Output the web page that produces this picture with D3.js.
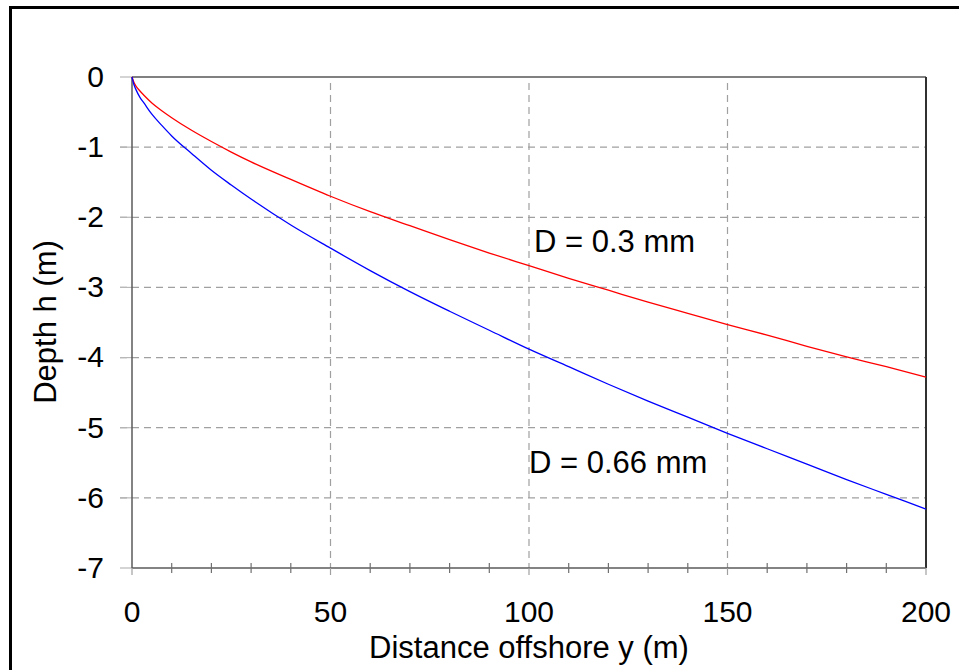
<!DOCTYPE html>
<html><head><meta charset="utf-8">
<script src="https://cdn.jsdelivr.net/npm/d3@7"></script>
<style>html,body{margin:0;padding:0;background:#fff;}svg{display:block;font-family:Arial,"Liberation Sans",sans-serif;}</style>
</head><body>
<svg id="c" width="959" height="670"></svg>
<script>
const distance = [0,0.5,1,2,3,5,7.5,10,15,20,25,30,40,50,60,70,80,90,100,110,120,130,140,150,160,170,180,190,200];
const depthFine = [0,-0.08,-0.13,-0.20,-0.26,-0.37,-0.48,-0.58,-0.76,-0.92,-1.07,-1.21,-1.46,-1.70,-1.92,-2.12,-2.32,-2.51,-2.69,-2.87,-3.04,-3.21,-3.37,-3.53,-3.68,-3.84,-3.99,-4.13,-4.28];
const depthCoarse = [0,-0.11,-0.18,-0.29,-0.37,-0.53,-0.69,-0.84,-1.09,-1.33,-1.54,-1.74,-2.11,-2.44,-2.76,-3.06,-3.34,-3.61,-3.88,-4.13,-4.38,-4.62,-4.85,-5.08,-5.30,-5.52,-5.74,-5.95,-6.16];
const seriesNames = ["D = 0.3 mm","D = 0.66 mm"];
const xTicks = [0,50,100,150,200];
const xMinor = [10,20,30,40,60,70,80,90,110,120,130,140,160,170,180,190];
const yTicks = [0,-1,-2,-3,-4,-5,-6,-7];
const xTitle = "Distance offshore y (m)";
const yTitle = "Depth h (m)";

const svg = d3.select("#c");
const x = d3.scaleLinear().domain([0,200]).range([132,926]);
const y = d3.scaleLinear().domain([0,-7]).range([77,568]);

// outer border
svg.append("rect").attr("x",10.5).attr("y",7.5).attr("width",1000).attr("height",1000)
  .attr("fill","none").attr("stroke","#000").attr("stroke-width",3);

// gridlines
const g = svg.append("g");
g.selectAll("line.hg").data(yTicks.filter(d=>d!==0 && d!==-7)).join("line")
  .attr("x1",120).attr("x2",x(200)).attr("y1",d=>y(d)).attr("y2",d=>y(d))
  .attr("stroke","#a0a0a0").attr("stroke-width",1.2).attr("stroke-dasharray","7,5");
g.selectAll("line.vg").data(xTicks.filter(d=>d!==0 && d!==200)).join("line")
  .attr("x1",d=>x(d)).attr("x2",d=>x(d)).attr("y1",y(0)+6).attr("y2",y(-7))
  .attr("stroke","#a0a0a0").attr("stroke-width",1.2).attr("stroke-dasharray","7,5");

// y tick marks (light)
g.selectAll("line.yt").data(yTicks).join("line")
  .attr("x1",120).attr("x2",132).attr("y1",d=>y(d)).attr("y2",d=>y(d))
  .attr("stroke","#b8b8b8").attr("stroke-width",1.2);

// frame
svg.append("line").attr("x1",132).attr("x2",x(200)).attr("y1",y(0)).attr("y2",y(0)).attr("stroke","#808080").attr("stroke-width",2);
svg.append("line").attr("x1",x(200)).attr("x2",x(200)).attr("y1",y(0)).attr("y2",y(-7)).attr("stroke","#303030").attr("stroke-width",2);
svg.append("line").attr("x1",132).attr("x2",132).attr("y1",y(0)).attr("y2",y(-7)).attr("stroke","#5a5a5a").attr("stroke-width",1.5);
svg.append("line").attr("x1",132).attr("x2",x(200)).attr("y1",y(-7)).attr("y2",y(-7)).attr("stroke","#5a5a5a").attr("stroke-width",1.5);

// x ticks
svg.selectAll("line.xm").data(xMinor).join("line")
  .attr("x1",d=>x(d)).attr("x2",d=>x(d)).attr("y1",y(-7)-5).attr("y2",y(-7)+5)
  .attr("stroke","#707070").attr("stroke-width",1.2);
svg.selectAll("line.xM").data(xTicks).join("line")
  .attr("x1",d=>x(d)).attr("x2",d=>x(d)).attr("y1",y(-7)).attr("y2",y(-7)+7)
  .attr("stroke","#a0a0a0").attr("stroke-width",1.2);

// curves
const line = d3.line().x(d=>x(d[0])).y(d=>y(d[1])).curve(d3.curveMonotoneX);
svg.append("path").datum(distance.map((d,i)=>[d,depthFine[i]])).attr("d",line)
  .attr("fill","none").attr("stroke","#ff0000").attr("stroke-width",1.3);
svg.append("path").datum(distance.map((d,i)=>[d,depthCoarse[i]])).attr("d",line)
  .attr("fill","none").attr("stroke","#0000ff").attr("stroke-width",1.3);

// tick labels
svg.selectAll("text.yl").data(yTicks).join("text")
  .attr("x",104).attr("y",d=>y(d)).attr("dy","0.33em").attr("text-anchor","end")
  .attr("font-size",30).attr("fill","#000").text(d=>d);
svg.selectAll("text.xl").data(xTicks).join("text")
  .attr("x",d=>x(d)).attr("y",622).attr("text-anchor","middle")
  .attr("font-size",30).attr("fill","#000").text(d=>d);

// titles
svg.append("text").attr("x",529).attr("y",658).attr("text-anchor","middle").attr("font-size",31).text(xTitle);
svg.append("text").attr("transform","translate(56,322) rotate(-90)").attr("text-anchor","middle").attr("font-size",31).text(yTitle);

// series labels
svg.append("text").attr("x",534).attr("y",252).attr("font-size",31).text(seriesNames[0]);
svg.append("text").attr("x",529).attr("y",473).attr("font-size",31).text(seriesNames[1]);
</script>
</body></html>
